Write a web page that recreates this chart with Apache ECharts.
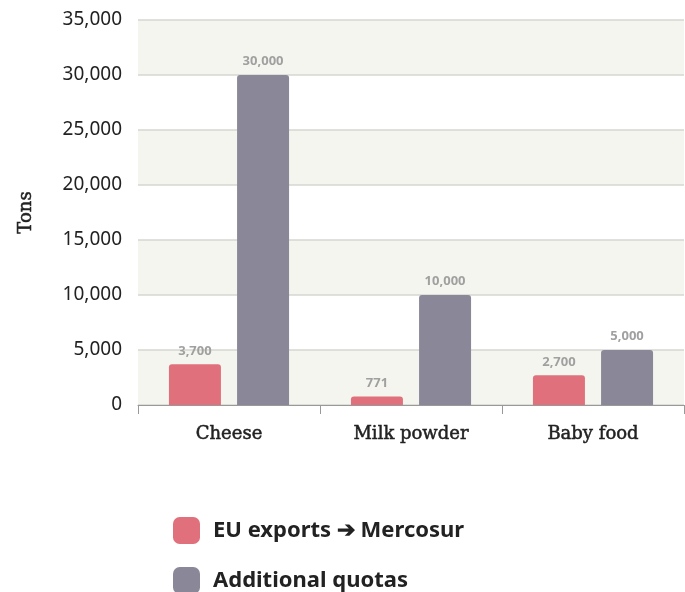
<!DOCTYPE html>
<html><head><meta charset="utf-8">
<script src="https://cdn.jsdelivr.net/npm/echarts@6/dist/echarts.min.js"></script>
<style>html,body{margin:0;padding:0;background:#fff}#c{width:685px;height:592px}</style>
</head><body><div id="c"></div>
<script>
const categories = ['Cheese', 'Milk powder', 'Baby food'];
const euExports = [3700, 771, 2700];
const additionalQuotas = [30000, 10000, 5000];
const seriesNames = ['EU exports \u2794 Mercosur', 'Additional quotas'];
const shadedBands = [[0, 5000], [10000, 15000], [20000, 25000], [30000, 35000]];

const chart = echarts.init(document.getElementById('c'));
const labelStyle = {show: true, position: 'top', distance: 7, color: '#a0a0a0', fontFamily: 'Noto Sans', fontWeight: 'bold', fontSize: 13,
  formatter: p => p.value.toLocaleString('en-US')};
const legendBase = {
  orient: 'vertical', left: 168, itemWidth: 27, itemHeight: 27,
  icon: 'roundRect',
  textStyle: {fontFamily: 'Noto Sans', fontWeight: 'bold', fontSize: 22, color: '#222', padding: [0, 0, 0, 8]}
};
const serifStyle = {fontFamily: 'DejaVu Serif', fontSize: 18, color: '#222', textBorderColor: '#222', textBorderWidth: 0.5};
chart.setOption({
  animation: false,
  grid: {left: 138, right: 1, top: 20, bottom: 187},
  legend: [
    Object.assign({}, legendBase, {top: 512, data: [seriesNames[0]]}),
    Object.assign({}, legendBase, {top: 562, data: [seriesNames[1]]})
  ],
  xAxis: {
    type: 'category', data: categories,
    axisLine: {lineStyle: {color: '#999', width: 1}},
    axisTick: {show: true, length: 9, lineStyle: {color: '#999'}},
    axisLabel: Object.assign({margin: 20}, serifStyle)
  },
  yAxis: {
    type: 'value', min: 0, max: 35000, interval: 5000,
    name: 'Tons', nameLocation: 'middle', nameGap: 103, nameRotate: 90,
    nameTextStyle: serifStyle,
    axisLine: {show: false}, axisTick: {show: false},
    axisLabel: {fontFamily: 'Noto Sans', fontSize: 19, color: '#222', margin: 16,
      formatter: v => v.toLocaleString('en-US')},
    splitLine: {lineStyle: {color: '#d6d6d0', width: 1.5}, z: 1},
    splitArea: {show: false}
  },
  series: [
    {name: seriesNames[0], type: 'bar', data: euExports, barWidth: 52, barGap: '31%',
     itemStyle: {color: '#e0707b', borderRadius: [3, 3, 0, 0]}, label: labelStyle,
     markArea: {silent: true, itemStyle: {color: '#f5f5f0'}, z: -1,
       data: shadedBands.map(b => [{yAxis: b[0]}, {yAxis: b[1]}])}},
    {name: seriesNames[1], type: 'bar', data: additionalQuotas, barWidth: 52,
     itemStyle: {color: '#8a8898', borderRadius: [3, 3, 0, 0]}, label: labelStyle}
  ]
});
</script></body></html>
